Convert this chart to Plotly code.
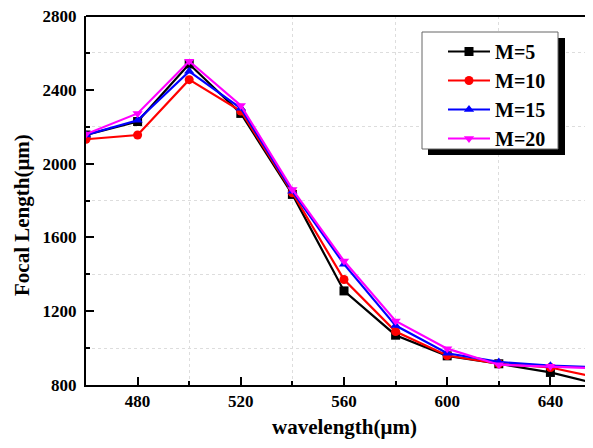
import plotly.graph_objects as go

wavelength = [460, 480, 500, 520, 540, 560, 580, 600, 620, 640, 660]
m5 = [2155, 2228, 2540, 2272, 1833, 1310, 1070, 958, 915, 868, 800]
m10 = [2132, 2155, 2455, 2285, 1842, 1372, 1090, 960, 915, 895, 835]
m15 = [2155, 2235, 2500, 2300, 1850, 1455, 1122, 972, 925, 905, 895]
m20 = [2160, 2272, 2555, 2315, 1860, 1472, 1147, 997, 910, 902, 890]

series = [
    ("M=5", m5, "black", "square"),
    ("M=10", m10, "red", "circle"),
    ("M=15", m15, "blue", "triangle-up"),
    ("M=20", m20, "magenta", "triangle-down"),
]

FONT = "Liberation Serif"
fig = go.Figure()
for name, ys, col, sym in series:
    fig.add_trace(go.Scatter(
        x=wavelength, y=ys, name=name, mode="lines+markers",
        line=dict(color=col, width=2.2),
        marker=dict(color=col, symbol=sym, size=9),
        cliponaxis=True,
    ))

# page body has an 8px offset; compensate so plot area sits at window coords
OFF = 8
W, H = 593 - OFF, 448 - OFF
PL, PT, PR, PB = 86, 16, 593, 385  # plot area in window coords
L, T, R = PL - OFF, PT - OFF, 0
pw, ph = PR - PL, PB - PT

def px(x):
    return (x - PL) / pw

def py(y):
    return 1 - (y - PT) / ph

fig.update_layout(
    width=W, height=H,
    margin=dict(l=L, r=R, t=T, b=H - (PB - OFF)),
    plot_bgcolor="white", paper_bgcolor="white",
    font=dict(family=FONT, color="black"),
    showlegend=True,
    legend=dict(
        x=px(443), y=py(32), xanchor="left", yanchor="top",
        bgcolor="rgba(0,0,0,0)", borderwidth=0,
        font=dict(family=FONT, size=20, color="black", weight="bold"),
        itemwidth=42, tracegroupgap=0,
    ),
    xaxis=dict(
        range=[460, 460 + (PR - PL) / 2.58],
        tickmode="array", tickvals=[480, 520, 560, 600, 640],
        ticks="inside", ticklen=8, tickwidth=2, tickcolor="black",
        showline=True, linecolor="black", linewidth=2,
        showgrid=False, zeroline=False,
        tickfont=dict(family=FONT, size=17, weight="bold"),
        minor=dict(tickvals=[500, 540, 580, 620], ticks="inside", ticklen=4,
                   tickwidth=2, tickcolor="black", showgrid=True,
                   gridcolor="#dddddd", griddash="dot", gridwidth=1),
    ),
    yaxis=dict(
        range=[800, 2800],
        tickmode="array", tickvals=[800, 1200, 1600, 2000, 2400, 2800],
        ticks="inside", ticklen=8, tickwidth=2, tickcolor="black",
        showline=True, linecolor="black", linewidth=2,
        showgrid=False, zeroline=False,
        ticklabeloverflow="allow", ticklabelstandoff=4,
        tickfont=dict(family=FONT, size=17, weight="bold"),
        minor=dict(tickvals=[1000, 1400, 1800, 2200, 2600], ticks="inside", ticklen=4,
                   tickwidth=2, tickcolor="black", showgrid=True,
                   gridcolor="#dddddd", griddash="dot", gridwidth=1),
    ),
    annotations=[
        dict(text="<b>wavelength(μm)</b>", xref="paper", yref="paper",
             x=px(344), y=py(427), xanchor="center", yanchor="middle",
             showarrow=False, font=dict(family=FONT, size=21)),
        dict(text="<b>Focal Length(μm)</b>", xref="paper", yref="paper",
             x=px(22), y=py(215), xanchor="center", yanchor="middle",
             textangle=-90, showarrow=False, font=dict(family=FONT, size=21)),
    ],
    shapes=[
        dict(type="line", xref="paper", yref="paper", x0=0, x1=1, y0=1, y1=1,
             line=dict(color="black", width=2), layer="above"),
        dict(type="rect", xref="paper", yref="paper",
             x0=px(428), x1=px(565), y0=py(155), y1=py(38),
             fillcolor="black", line=dict(width=0), layer="above"),
        dict(type="rect", xref="paper", yref="paper",
             x0=px(422), x1=px(558), y0=py(149), y1=py(32),
             fillcolor="white", line=dict(color="#666", width=1), layer="above"),
    ],
)

fig.write_html("out.html")
